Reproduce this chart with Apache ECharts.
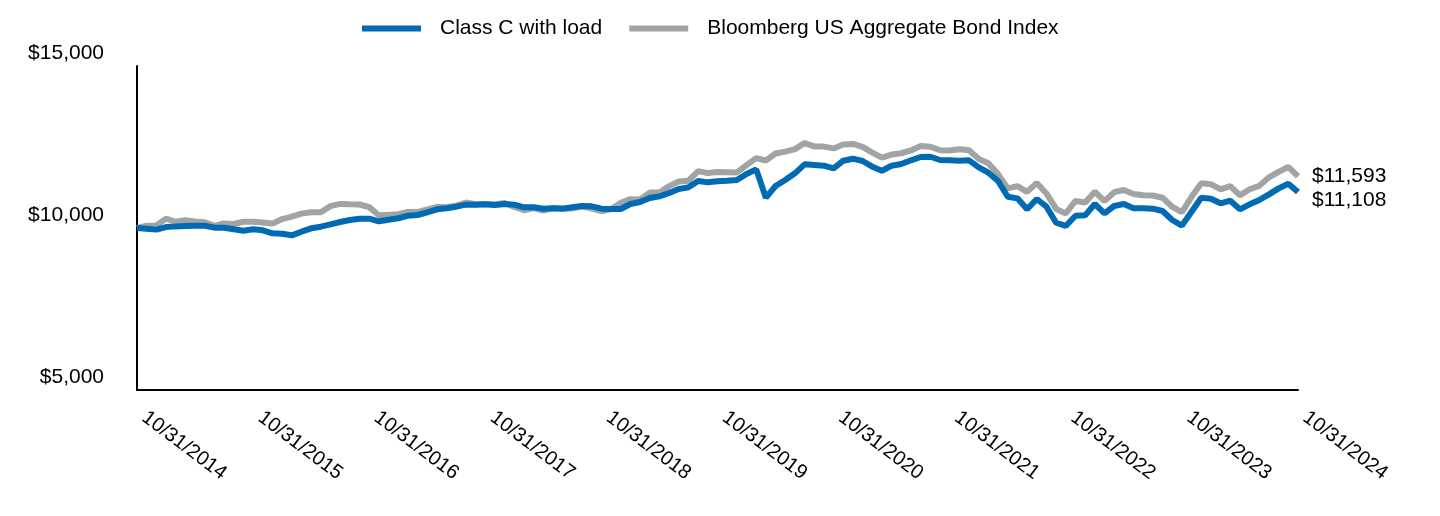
<!DOCTYPE html>
<html>
<head>
<meta charset="utf-8">
<script src="https://cdn.jsdelivr.net/npm/echarts@6/dist/echarts.min.js"></script>
<style>
html,body{margin:0;padding:0;background:#fff;}
#chart{width:1440px;height:516px;}
</style>
</head>
<body>
<div id="chart"></div>
<script>
// Tick labels shown on the x axis (every 12 months)
var tickLabels = ['10/31/2014','10/31/2015','10/31/2016','10/31/2017','10/31/2018','10/31/2019','10/31/2020','10/31/2021','10/31/2022','10/31/2023','10/31/2024'];
var yTicks = [5000, 10000, 15000];
var seriesNames = ['Class C with load', 'Bloomberg US Aggregate Bond Index'];

// Class C with load (monthly, 10/31/2014 - 10/31/2024)
var classC = [
10000,9980,9950,10030,10050,10060,10070,10070,10010,10010,9960,9917,
9960,9930,9835,9825,9774,9886,9990,10040,10113,10185,10247,10288,
10288,10206,10257,10298,10380,10401,10484,10577,10608,10658,10720,10720,
10731,10710,10741,10720,10638,10638,10597,10608,10597,10638,10679,10669,
10597,10586,10586,10741,10802,10926,10977,11080,11204,11255,11450,11409,
11440,11460,11481,11666,11810,10936,11296,11481,11687,11965,11944,11923,
11841,12077,12139,12068,11892,11768,11923,11975,12089,12191,12200,12098,
12089,12077,12089,11873,11707,11450,10966,10915,10577,10895,10658,10164,
10062,10380,10391,10741,10453,10679,10741,10608,10608,10597,10525,10247,
10072,10504,10936,10905,10762,10843,10577,10731,10864,11039,11224,11367,
11108
];

// Bloomberg US Aggregate Bond Index (monthly)
var bbAgg = [
10000,10070,10079,10290,10193,10240,10203,10178,10067,10138,10124,10193,
10195,10168,10136,10276,10349,10444,10484,10487,10676,10743,10731,10725,
10643,10391,10406,10427,10497,10492,10573,10654,10643,10689,10785,10733,
10739,10725,10774,10650,10549,10616,10538,10613,10600,10602,10670,10602,
10518,10581,10776,10890,10883,11092,11095,11293,11435,11460,11757,11695,
11730,11724,11716,11941,12156,12084,12299,12357,12435,12620,12518,12512,
12456,12578,12596,12505,12325,12171,12267,12307,12393,12532,12508,12399,
12395,12433,12400,12134,11998,11664,11222,11294,11117,11388,11066,10588,
10450,10835,10786,11118,10830,11105,11173,11051,11011,11003,10933,10655,
10487,10962,11382,11351,11191,11294,11008,11195,11301,11566,11732,11889,
11593
];

// month-end date categories
var categories = [];
(function(){
  var dim = [31,28,31,30,31,30,31,31,30,31,30,31];
  var y = 2014, m = 9; // October (0-based)
  for (var i = 0; i < classC.length; i++) {
    var d = dim[m];
    if (m === 1 && ((y % 4 === 0 && y % 100 !== 0) || y % 400 === 0)) d = 29;
    categories.push((m + 1) + '/' + d + '/' + y);
    m++; if (m > 11) { m = 0; y++; }
  }
})();

var FONT = '"Liberation Sans", Arial, sans-serif';
function money(v){ return '$' + Math.round(v).toString().replace(/\B(?=(\d{3})+(?!\d))/g, ','); }

var chart = echarts.init(document.getElementById('chart'), null, {renderer:'canvas'});
chart.setOption({
  animation: false,
  backgroundColor: '#fff',
  textStyle: { fontFamily: FONT },
  legend: {
    data: seriesNames,
    left: 357,
    top: 13,
    icon: 'rect',
    itemWidth: 59,
    itemHeight: 6,
    itemGap: 27,
    textStyle: { fontSize: 21, color: '#000', fontFamily: FONT, padding: [0,0,0,14] }
  },
  grid: { left: 137, right: 142, top: 66, bottom: 126, containLabel: false },
  xAxis: {
    type: 'category',
    data: categories,
    boundaryGap: false,
    axisLine: { show: true, lineStyle: { color: '#000', width: 2 } },
    axisTick: { show: false },
    axisLabel: {
      interval: function(idx){ return idx % 12 === 0; },
      formatter: function(v, idx){ return tickLabels[Math.floor(idx/12)] || v; },
      rotate: -37,
      margin: 20,
      fontSize: 20,
      color: '#000',
      fontFamily: FONT,
      padding: [0,0,0,9]
    },
    splitLine: { show: false }
  },
  yAxis: {
    type: 'value',
    min: yTicks[0],
    max: yTicks[yTicks.length-1],
    interval: yTicks[1]-yTicks[0],
    axisLine: { show: true, onZero: false, lineStyle: { color: '#000', width: 2 } },
    axisTick: { show: false },
    splitLine: { show: false },
    axisLabel: {
      formatter: money,
      fontSize: 21,
      color: '#000',
      fontFamily: FONT,
      margin: 33,
      verticalAlign: 'bottom',
      lineHeight: 21,
      padding: [0,0,2,0]
    }
  },
  series: [
    {
      name: seriesNames[1],
      type: 'line',
      data: bbAgg,
      symbol: 'none',
      z: 2,
      lineStyle: { color: '#a1a4a4', width: 6 },
      itemStyle: { color: '#a1a4a4' },
      endLabel: { show: true, formatter: function(p){ return money(p.value); }, distance: 14, fontSize: 21, color: '#000', fontFamily: FONT }
    },
    {
      name: seriesNames[0],
      type: 'line',
      data: classC,
      symbol: 'none',
      z: 3,
      lineStyle: { color: '#006bb4', width: 6 },
      itemStyle: { color: '#006bb4' },
      endLabel: { show: true, formatter: function(p){ return money(p.value); }, distance: 14, offset: [0, 8], fontSize: 21, color: '#000', fontFamily: FONT }
    }
  ]
});
</script>
</body>
</html>
